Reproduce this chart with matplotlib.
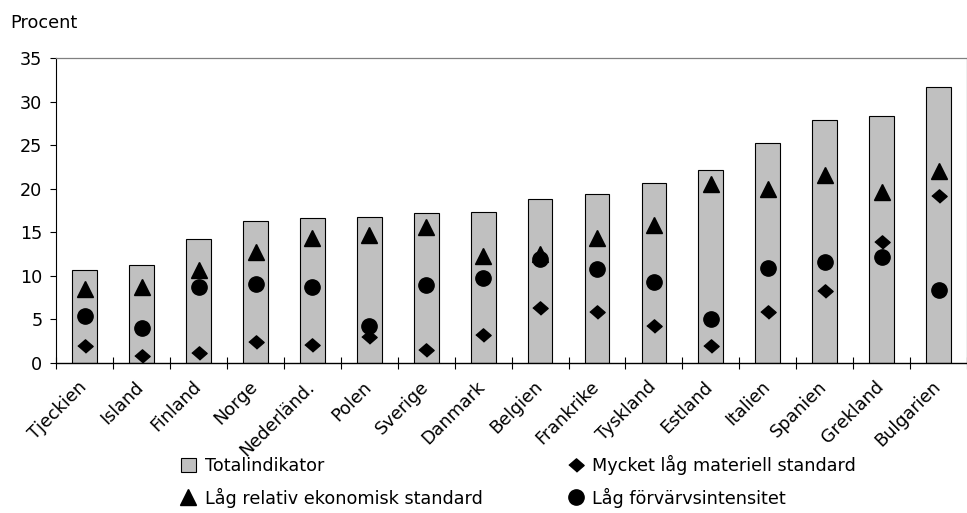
import numpy as np
import matplotlib
matplotlib.use('Agg')
import matplotlib.pyplot as plt
import matplotlib.transforms as mtransforms
from matplotlib.lines import Line2D
from matplotlib.patches import Patch

countries = ['Tjeckien', 'Island', 'Finland', 'Norge', 'Nederländ.', 'Polen',
             'Sverige', 'Danmark', 'Belgien', 'Frankrike', 'Tyskland', 'Estland',
             'Italien', 'Spanien', 'Grekland', 'Bulgarien']
total = [10.7, 11.3, 14.2, 16.3, 16.6, 16.8, 17.2, 17.3, 18.8, 19.4, 20.7, 22.2,
         25.2, 27.9, 28.3, 31.7]
rel_ekon = [8.5, 8.7, 10.7, 12.7, 14.3, 14.7, 15.6, 12.3, 12.5, 14.3, 15.8, 20.5,
            20.0, 21.6, 19.6, 22.0]
forvarv = [5.4, 4.0, 8.7, 9.1, 8.7, 4.3, 8.9, 9.8, 11.9, 10.8, 9.3, 5.1,
           10.9, 11.6, 12.2, 8.4]
materiell = [1.9, 0.8, 1.2, 2.4, 2.1, 3.0, 1.5, 3.2, 6.3, 5.9, 4.3, 1.9,
             5.9, 8.3, 13.9, 19.2]

labels = ['Totalindikator', 'Mycket låg materiell standard',
          'Låg relativ ekonomisk standard', 'Låg förvärvsintensitet']

plt.rcParams['font.family'] = 'DejaVu Sans'
plt.rcParams['font.size'] = 12.7

fig = plt.figure(figsize=(9.67, 5.13), dpi=100)
ax = fig.add_axes([56.3 / 967, 1 - 363 / 513, 1 - 56.3 / 967, 305 / 513])

x = np.arange(len(countries))
diamond = [(-1, 0), (0, 0.87), (1, 0), (0, -0.87)]

ax.bar(x, total, width=0.435, color='#c0c0c0', edgecolor='black', linewidth=0.8, zorder=2)
ax.plot(x, rel_ekon, linestyle='none', marker='^', markersize=11.5, color='black', zorder=3)
ax.plot(x, forvarv, linestyle='none', marker='o', markersize=11, color='black', zorder=3)
ax.plot(x, materiell, linestyle='none', marker=diamond, markersize=11, color='black', zorder=4)

ax.set_xlim(-0.5, 15.34)
ax.set_ylim(0, 35)
ax.set_yticks(range(0, 36, 5))
ax.tick_params(axis='y', direction='out', length=4, width=0.8, pad=6)

ax.set_xticks(x)
ax.set_xticklabels(countries, rotation=45, ha='right', rotation_mode='anchor')
ax.tick_params(axis='x', which='major', length=0, pad=10.5)
ax.set_xticks(np.arange(-0.5, 16, 1), minor=True)
ax.tick_params(axis='x', which='minor', direction='inout', length=8, width=0.8)

# nudge the rotated labels so their ends sit under the bar centres
shift = mtransforms.ScaledTranslation(-7 / 100, 0, fig.dpi_scale_trans)
for lab in ax.get_xticklabels():
    lab.set_transform(lab.get_transform() + shift)

for side in ['top', 'right']:
    ax.spines[side].set_color('#808080')
    ax.spines[side].set_linewidth(0.9)
ax.spines['left'].set_linewidth(0.8)
ax.spines['bottom'].set_linewidth(1.0)

fig.text(10 / 967, 1 - 23 / 513, 'Procent', va='center', ha='left')

handles = [
    Patch(facecolor='#c0c0c0', edgecolor='black', linewidth=0.8),
    Line2D([], [], linestyle='none', marker='^', markersize=11.5, color='black'),
    Line2D([], [], linestyle='none', marker=diamond, markersize=11, color='black'),
    Line2D([], [], linestyle='none', marker='o', markersize=11, color='black'),
]
leg_labels = [labels[0], labels[2], labels[1], labels[3]]
fig.legend(handles, leg_labels, ncol=2, loc='upper left', frameon=False,
           bbox_to_anchor=(181 / 967, 1 - 455 / 513), borderpad=0, borderaxespad=0,
           handlelength=0.85, handleheight=0.85, handletextpad=0.5,
           columnspacing=4.85, labelspacing=0.72)

fig.savefig('out.png', dpi=100)
